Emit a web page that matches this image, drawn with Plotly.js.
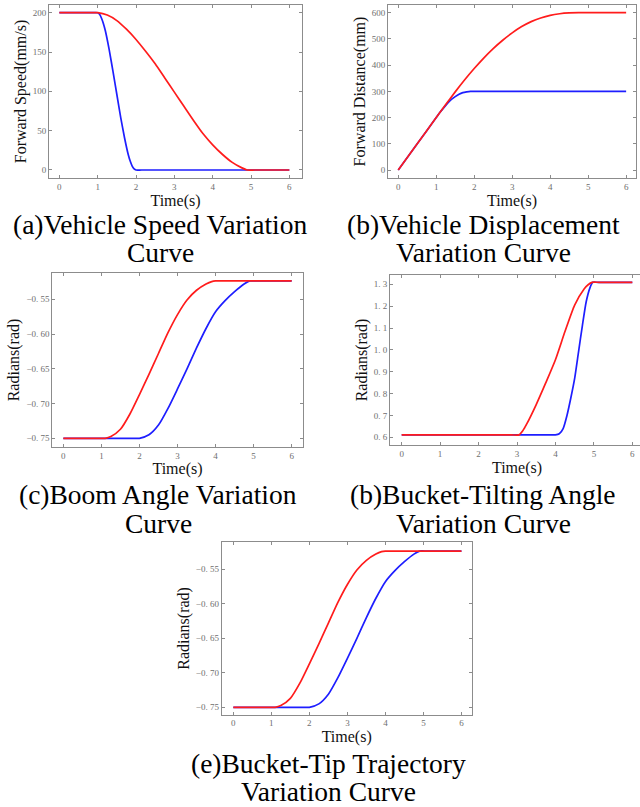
<!DOCTYPE html>
<html><head><meta charset="utf-8">
<script src="https://cdn.plot.ly/plotly-3.0.1.min.js"></script>
<style>html,body{margin:0;padding:0;overflow:hidden;background:#fff;width:640px;height:807px}#chart{width:660px;height:807px}</style>
</head><body><div id="chart"></div><script>
// ---- data ----
const timeTicks = [0, 1, 2, 3, 4, 5, 6];
const timeTickText = ['0', '1', '2', '3', '4', '5', '6'];

// (a) forward speed, mm/s
const speedRedT = [0, 0.8, 1, 1.25, 1.5, 1.75, 2, 2.25, 2.5, 2.75, 3, 3.25, 3.5, 3.75, 4, 4.25, 4.5, 4.75, 4.9, 5.1, 6];
const speedRed  = [200, 200, 200, 197, 190, 179, 166, 151, 135, 117, 99, 81, 63, 46, 32, 20, 10, 3, 0, 0, 0];
const speedBlueT = [0, 0.85, 1, 1.05, 1.1, 1.15, 1.2, 1.3, 1.4, 1.5, 1.6, 1.7, 1.8, 1.85, 1.9, 1.95, 2, 2.15, 6];
const speedBlue  = [200, 200, 200, 198, 193, 186, 177, 153, 125, 96, 67, 41, 19, 11, 5, 1.5, 0, 0, 0];
const speedTicks = [0, 50, 100, 150, 200];
const speedTickText = ['0', '50', '100', '150', '200'];

// (b) forward distance, mm
const distRedT = [0, 0.5, 1, 1.25, 1.5, 1.75, 2, 2.25, 2.5, 2.75, 3, 3.25, 3.5, 3.75, 4, 4.25, 4.5, 4.75, 5, 6];
const distRed  = [0, 100, 200, 250, 298, 344, 387, 427, 463, 495, 523, 547, 566, 580, 590, 596, 599, 600, 600, 600];
const distBlueT = [0, 0.5, 1, 1.1, 1.2, 1.3, 1.4, 1.5, 1.6, 1.7, 1.8, 1.9, 2, 2.2, 6];
const distBlue  = [0, 100, 200, 220, 238, 255, 269, 280, 289, 295, 298, 300, 300, 300, 300];
const distTicks = [0, 100, 200, 300, 400, 500, 600];
const distTickText = ['0', '100', '200', '300', '400', '500', '600'];

// (c) boom angle, rad
const boomRedT = [0, 0.9, 1.1, 1.25, 1.5, 1.75, 2, 2.25, 2.5, 2.75, 3, 3.25, 3.5, 3.75, 3.9, 4, 4.2, 6];
const boomRed  = [-0.75, -0.75, -0.75, -0.7475, -0.737, -0.715, -0.687, -0.658, -0.628, -0.598, -0.572, -0.551, -0.537, -0.528, -0.5245, -0.5236, -0.5236, -0.5236];
const boomBlueT = [0, 1.8, 2.0, 2.25, 2.5, 2.75, 3, 3.25, 3.5, 3.75, 4, 4.25, 4.5, 4.75, 4.9, 5.1, 6];
const boomBlue  = [-0.75, -0.75, -0.75, -0.745, -0.731, -0.707, -0.679, -0.650, -0.620, -0.592, -0.568, -0.552, -0.539, -0.528, -0.5236, -0.5236, -0.5236];
const angleTicks = [-0.75, -0.70, -0.65, -0.60, -0.55];
const angleTickText = ['\u22120. 75', '\u22120. 70', '\u22120. 65', '\u22120. 60', '\u22120. 55'];

// (d) bucket-tilting angle, rad
const tiltRedT = [0, 2.85, 3.05, 3.15, 3.25, 3.5, 3.75, 4, 4.25, 4.5, 4.75, 4.85, 4.95, 5.15, 6];
const tiltRed  = [0.611, 0.611, 0.611, 0.63, 0.66, 0.75, 0.85, 0.955, 1.085, 1.205, 1.28, 1.298, 1.309, 1.309, 1.309];
const tiltBlueT = [0, 3.85, 4.0, 4.1, 4.2, 4.3, 4.4, 4.5, 4.6, 4.7, 4.8, 4.9, 4.97, 5.1, 6];
const tiltBlue  = [0.611, 0.611, 0.611, 0.616, 0.64, 0.70, 0.78, 0.87, 0.99, 1.11, 1.22, 1.285, 1.309, 1.309, 1.309];
const tiltTicks = [0.6, 0.7, 0.8, 0.9, 1.0, 1.1, 1.2, 1.3];
const tiltTickText = ['0. 6', '0. 7', '0. 8', '0. 9', '1. 0', '1. 1', '1. 2', '1. 3'];

// (e) bucket-tip trajectory, rad
const tipRedT = [0, 0.9, 1.1, 1.25, 1.5, 1.75, 2, 2.25, 2.5, 2.75, 3, 3.25, 3.5, 3.75, 3.9, 4, 4.2, 6];
const tipRed  = [-0.75, -0.75, -0.75, -0.7475, -0.737, -0.715, -0.687, -0.658, -0.628, -0.598, -0.572, -0.551, -0.537, -0.528, -0.5245, -0.5236, -0.5236, -0.5236];
const tipBlueT = [0, 1.8, 2.0, 2.25, 2.5, 2.75, 3, 3.25, 3.5, 3.75, 4, 4.25, 4.5, 4.75, 4.9, 5.1, 6];
const tipBlue  = [-0.75, -0.75, -0.75, -0.745, -0.731, -0.707, -0.679, -0.650, -0.620, -0.592, -0.568, -0.552, -0.539, -0.528, -0.5236, -0.5236, -0.5236];

const captions = [
  ['(a)Vehicle Speed Variation', 'Curve'],
  ['(b)Vehicle Displacement', 'Variation Curve'],
  ['(c)Boom Angle Variation', 'Curve'],
  ['(b)Bucket-Tilting Angle', 'Variation Curve'],
  ['(e)Bucket-Tip Trajectory', 'Variation Curve']
];

// ---- layout ----
const W = 660, H = 807;
const SERIF = 'Liberation Serif, Times New Roman, serif';
const RED = 'rgb(255,28,28)', BLUE = 'rgb(30,30,255)';
const FRAME = '#8c8c8c';

function dx(a, b) { return [a / W, b / W]; }
function dy(top, bottom) { return [1 - bottom / H, 1 - top / H]; }

// panel boxes in px: left, right, top, bottom
const boxes = [
  {l: 49, r: 302, t: 5, b: 178, xr: [-0.27, 6.33], yr: [-10.2, 209.8], yt: speedTicks, ytt: speedTickText, ytitle: 'Forward Speed(mm/s)'},
  {l: 388, r: 636, t: 5, b: 178, xr: [-0.27, 6.26], yr: [-30.5, 629.4], yt: distTicks, ytt: distTickText, ytitle: 'Forward Distance(mm)'},
  {l: 52.3, r: 302.7, t: 273.3, b: 446.7, xr: [-0.29, 6.29], yr: [-0.7621, -0.5126], yt: angleTicks, ytt: angleTickText, ytitle: 'Radians(rad)'},
  {l: 390, r: 644, t: 275, b: 445, xr: [-0.304, 6.304], yr: [0.5648, 1.3425], yt: tiltTicks, ytt: tiltTickText, ytitle: 'Radians(rad)'},
  {l: 221.7, r: 471.7, t: 542.3, b: 714.5, xr: [-0.306, 6.27], yr: [-0.7604, -0.5109], yt: angleTicks, ytt: angleTickText, ytitle: 'Radians(rad)'}
];

const common = {
  showline: true, linecolor: FRAME, linewidth: 1, mirror: 'ticks',
  ticks: 'inside', ticklen: 3, tickwidth: 1, tickcolor: FRAME,
  showgrid: false, zeroline: false, fixedrange: true,
  tickfont: {family: SERIF, size: 9, color: '#6e6e6e'}
};

const layout = {
  width: W, height: H, margin: {l: 0, r: 0, t: 0, b: 0},
  paper_bgcolor: '#fff', plot_bgcolor: '#fff', showlegend: false,
  annotations: []
};

boxes.forEach((bx, i) => {
  const n = i === 0 ? '' : String(i + 1);
  layout['xaxis' + n] = Object.assign({}, common, {
    domain: dx(bx.l, bx.r), range: bx.xr, anchor: 'y' + n,
    tickmode: 'array', tickvals: timeTicks, ticktext: timeTickText,
    title: {text: 'Time(s)', font: {family: SERIF, size: 16, color: '#111'}, standoff: 0}
  });
  layout['yaxis' + n] = Object.assign({}, common, {
    domain: dy(bx.t, bx.b), range: bx.yr, anchor: 'x' + n,
    tickmode: 'array', tickvals: bx.yt, ticktext: bx.ytt,
    title: {text: bx.ytitle, font: {family: SERIF, size: 16, color: '#111'}, standoff: 2}
  });
});

// captions
const capPos = [
  {x: 160, y1: 223, y2: 252},
  {x: 484, y1: 223, y2: 252},
  {x: 158, y1: 493, y2: 522},
  {x: 483, y1: 493, y2: 522},
  {x: 328, y1: 762, y2: 790}
];
captions.forEach((c, i) => {
  const p = capPos[i];
  [[c[0], p.y1], [c[1], p.y2]].forEach(([txt, y]) => {
    layout.annotations.push({
      text: txt, xref: 'paper', yref: 'paper', x: p.x / W, y: 1 - (y + 1) / H,
      xanchor: 'center', yanchor: 'middle', showarrow: false,
      font: {family: SERIF, size: 27.5, color: '#000'}
    });
  });
});

function tr(x, y, color, n) {
  return {x: x, y: y, type: 'scatter', mode: 'lines', xaxis: 'x' + n, yaxis: 'y' + n,
    line: {color: color, width: 1.7, shape: 'spline', smoothing: 0.6}, hoverinfo: 'skip'};
}
const data = [
  tr(speedBlueT, speedBlue, BLUE, ''), tr(speedRedT, speedRed, RED, ''),
  tr(distBlueT, distBlue, BLUE, '2'), tr(distRedT, distRed, RED, '2'),
  tr(boomBlueT, boomBlue, BLUE, '3'), tr(boomRedT, boomRed, RED, '3'),
  tr(tiltBlueT, tiltBlue, BLUE, '4'), tr(tiltRedT, tiltRed, RED, '4'),
  tr(tipBlueT, tipBlue, BLUE, '5'), tr(tipRedT, tipRed, RED, '5')
];

Plotly.newPlot('chart', data, layout, {staticPlot: true, displayModeBar: false});
</script></body></html>
